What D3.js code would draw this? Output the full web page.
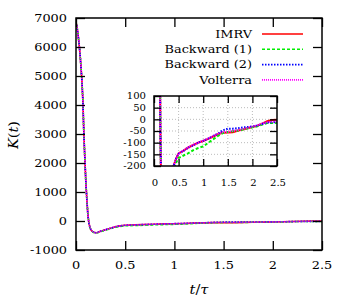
<!DOCTYPE html>
<html>
<head>
<meta charset="utf-8">
<script src="https://cdn.jsdelivr.net/npm/d3@7"></script>
<style>
  body { margin: 0; background: #fff; }
  svg { display: block; }
  text { font-family: 'DejaVu Serif', serif; }
</style>
</head>
<body>
<div id="chart"></div>
<script>
// time grid (t / tau)
const tVals = [0, 0.01, 0.02, 0.03, 0.04, 0.05, 0.06, 0.07, 0.08, 0.09, 0.1, 0.11, 0.12, 0.13, 0.14,
  0.15, 0.16, 0.18, 0.2, 0.22, 0.25, 0.3, 0.35, 0.4, 0.45, 0.5, 0.6, 0.7, 0.8, 0.9, 1.0,
  1.1, 1.2, 1.3, 1.4, 1.5, 1.6, 1.7, 1.8, 1.9, 2.0, 2.1, 2.2, 2.3, 2.4, 2.5]

// K(t) for each method
const imrv = [6850, 6700, 6450, 6150, 5800, 5350, 4850, 4150, 3000, 2150, 1350, 750, 250, -50, -200,
  -290, -340, -390, -405, -395, -350, -300, -250, -198, -168, -146, -134, -120, -110, -100, -93,
  -84, -74, -64, -57, -56, -55, -49, -44, -38, -33, -28, -18, -8, -3, -2]
const backward1 = [6850, 6700, 6450, 6150, 5800, 5350, 4850, 4150, 3000, 2150, 1350, 750, 250, -50, -210,
  -300, -350, -400, -415, -405, -365, -315, -262, -215, -185, -166, -155, -145, -132, -123, -116,
  -101, -86, -71, -59, -54, -51, -48, -44, -39, -34, -30, -22, -16, -16, -15]
const backward2 = [6850, 6700, 6450, 6150, 5800, 5350, 4850, 4150, 3000, 2150, 1350, 750, 250, -50, -200,
  -290, -340, -390, -405, -395, -350, -300, -250, -198, -168, -147, -135, -121, -111, -100, -92,
  -83, -72, -61, -47, -40, -40, -38, -35, -33, -30, -27, -20, -14, -13, -12]
const volterra = [6850, 6700, 6450, 6150, 5800, 5350, 4850, 4150, 3000, 2150, 1350, 750, 250, -50, -200,
  -290, -340, -390, -405, -395, -350, -300, -250, -198, -168, -145, -133, -119, -109, -99, -92,
  -82, -71, -62, -55, -53, -50, -46, -42, -37, -31, -26, -17, -12, -10, -9]

const seriesNames = ['IMRV', 'Backward (1)', 'Backward (2)', 'Volterra']
const seriesValues = [imrv, backward1, backward2, volterra]

const xTicks = [0, 0.5, 1, 1.5, 2, 2.5]
const yTicks = [-1000, 0, 1000, 2000, 3000, 4000, 5000, 6000, 7000]
const insetYTicks = [-200, -150, -100, -50, 0, 50, 100]

const styles = [
  { color: '#ff0000', dash: null, w: 1.6 },
  { color: '#00ee00', dash: '3,2', w: 1.6 },
  { color: '#0000ff', dash: '1.5,1.5', w: 1.6 },
  { color: '#ff00ff', dash: '1,1', w: 1.6 }
]

const width = 350, height = 300
const svg = d3.select('#chart').append('svg')
  .attr('width', width).attr('height', height)

const SX = 1.12

// slightly stretched text, like the LaTeX labels in the reference
function label(g, x, y, str, size, anchor) {
  return g.append('text')
    .attr('transform', `translate(${x},${y}) scale(${SX},1)`)
    .attr('text-anchor', anchor || 'middle')
    .attr('dominant-baseline', 'central')
    .attr('font-size', size)
    .attr('fill', '#000')
    .text(str)
}

const fmt = d => String(d)

// ---------- main plot ----------
const x = d3.scaleLinear().domain([0, 2.5]).range([76, 322])
const y = d3.scaleLinear().domain([-1000, 7000]).range([250, 18])

svg.append('clipPath').attr('id', 'clipMain')
  .append('rect').attr('x', 76).attr('y', 18).attr('width', 246).attr('height', 232)

const line = d3.line().x(d => x(d[0])).y(d => y(d[1]))
const main = svg.append('g').attr('clip-path', 'url(#clipMain)')
seriesValues.forEach((vals, i) => {
  main.append('path')
    .datum(tVals.map((t, j) => [t, vals[j]]))
    .attr('d', line)
    .attr('fill', 'none')
    .attr('stroke', styles[i].color)
    .attr('stroke-width', styles[i].w)
    .attr('stroke-dasharray', styles[i].dash)
})

// inward ticks on all four sides
function ticks(g, axis, tr) {
  const a = g.append('g').attr('transform', tr).call(axis)
  a.select('.domain').remove()
  a.selectAll('line').attr('stroke', '#000').attr('stroke-width', 1.3)
  a.selectAll('text').remove()
}
ticks(svg, d3.axisLeft(y).tickValues(yTicks).tickSize(-9), 'translate(76,0)')
ticks(svg, d3.axisRight(y).tickValues(yTicks).tickSize(-9), 'translate(322,0)')
ticks(svg, d3.axisBottom(x).tickValues(xTicks).tickSize(-9), 'translate(0,250)')
ticks(svg, d3.axisTop(x).tickValues(xTicks).tickSize(-9), 'translate(0,18)')

svg.append('rect').attr('x', 76).attr('y', 18).attr('width', 246).attr('height', 232)
  .attr('fill', 'none').attr('stroke', '#000').attr('stroke-width', 1.5)

yTicks.forEach(v => label(svg, 67, y(v), fmt(v), 11.5, 'end'))
xTicks.forEach(v => label(svg, x(v), 265, fmt(v), 11.5, 'middle'))

// axis titles
const xt = svg.append('text')
  .attr('transform', `translate(199,289) scale(${SX},1)`)
  .attr('text-anchor', 'middle').attr('dominant-baseline', 'central')
  .attr('font-size', 13)
xt.append('tspan').attr('font-style', 'italic').text('t')
xt.append('tspan').text('/')
xt.append('tspan').attr('font-style', 'italic').text('τ')

const yt = svg.append('text')
  .attr('transform', `translate(13,135) rotate(-90) scale(${SX},1)`)
  .attr('text-anchor', 'middle').attr('dominant-baseline', 'central')
  .attr('font-size', 13)
yt.append('tspan').attr('font-style', 'italic').text('K')
yt.append('tspan').text('(')
yt.append('tspan').attr('font-style', 'italic').text('t')
yt.append('tspan').text(')')

// ---------- legend ----------
const legend = svg.append('g')
seriesNames.forEach((name, i) => {
  const ly = 34 + i * 15.3
  label(legend, 252, ly, name, 11.5, 'end')
  legend.append('line')
    .attr('x1', 262).attr('x2', 303).attr('y1', ly).attr('y2', ly)
    .attr('stroke', styles[i].color)
    .attr('stroke-width', styles[i].w)
    .attr('stroke-dasharray', styles[i].dash)
})

// ---------- inset ----------
const xi = d3.scaleLinear().domain([0, 2.5]).range([154, 277])
const yi = d3.scaleLinear().domain([-200, 100]).range([166, 96])

const inset = svg.append('g')
inset.append('rect').attr('x', 154).attr('y', 96).attr('width', 123).attr('height', 70)
  .attr('fill', '#fff')

// dotted grid
const grid = inset.append('g')
xTicks.slice(1, -1).forEach(v => grid.append('line')
  .attr('x1', xi(v)).attr('x2', xi(v)).attr('y1', 96).attr('y2', 166))
insetYTicks.slice(1, -1).forEach(v => grid.append('line')
  .attr('x1', 154).attr('x2', 277).attr('y1', yi(v)).attr('y2', yi(v)))
grid.selectAll('line').attr('stroke', '#aaa').attr('stroke-width', 0.8)
  .attr('stroke-dasharray', '1,2')

inset.append('clipPath').attr('id', 'clipInset')
  .append('rect').attr('x', 154).attr('y', 96).attr('width', 123).attr('height', 70)

const lineI = d3.line().x(d => xi(d[0])).y(d => yi(d[1]))
const insetLines = inset.append('g').attr('clip-path', 'url(#clipInset)')
seriesValues.forEach((vals, i) => {
  insetLines.append('path')
    .datum(tVals.map((t, j) => [t, vals[j]]))
    .attr('d', lineI)
    .attr('fill', 'none')
    .attr('stroke', styles[i].color)
    .attr('stroke-width', styles[i].w + 0.4)
    .attr('stroke-dasharray', styles[i].dash)
})

function ticksI(axis, tr) {
  const a = inset.append('g').attr('transform', tr).call(axis)
  a.select('.domain').remove()
  a.selectAll('line').attr('stroke', '#000').attr('stroke-width', 1.3)
  a.selectAll('text').remove()
}
ticksI(d3.axisLeft(yi).tickValues(insetYTicks).tickSize(-7), 'translate(154,0)')
ticksI(d3.axisRight(yi).tickValues(insetYTicks).tickSize(-7), 'translate(277,0)')
ticksI(d3.axisBottom(xi).tickValues(xTicks).tickSize(-7), 'translate(0,166)')
ticksI(d3.axisTop(xi).tickValues(xTicks).tickSize(-7), 'translate(0,96)')

inset.append('rect').attr('x', 154).attr('y', 96).attr('width', 123).attr('height', 70)
  .attr('fill', 'none').attr('stroke', '#000').attr('stroke-width', 1.5)

insetYTicks.forEach(v => label(inset, 146, yi(v), fmt(v), 9, 'end'))
xTicks.forEach(v => label(inset, xi(v) + 1, 183, fmt(v), 9, 'middle'))
</script>
</body>
</html>
